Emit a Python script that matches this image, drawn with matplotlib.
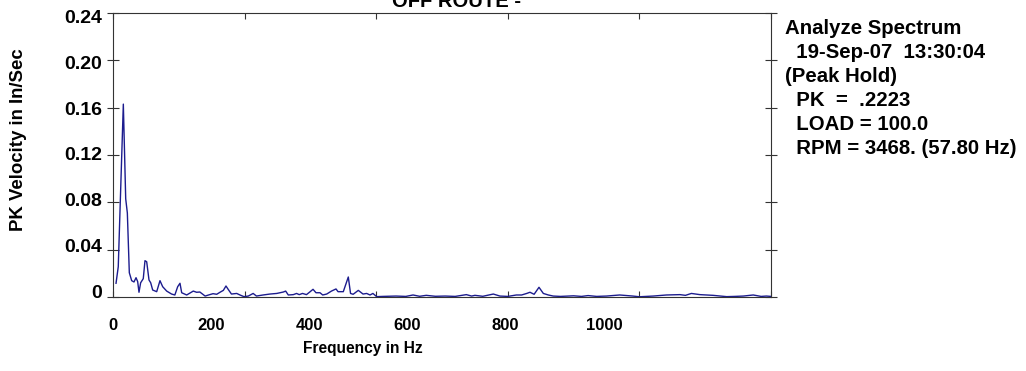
# Peak-hold velocity spectrum, OFF ROUTE
import numpy as np
import matplotlib
matplotlib.use("Agg")
import matplotlib.pyplot as plt

plt.rcParams['font.family'] = ['Liberation Sans', 'DejaVu Sans']
plt.rcParams['font.weight'] = 'bold'

freq = [4.6, 8, 15.7, 19.3, 21.8, 24.8, 28.4, 31.9, 35, 37.5, 39.5, 42, 46, 48.6,
        51.2, 54.7, 57.3, 60.3, 66.4, 71.4, 75.5, 81.6, 89, 94, 98.3, 101.8, 104.4,
        112, 122, 127, 132, 140, 147, 152, 157.6, 162.6, 167.7, 171.7, 175, 180,
        188, 193, 199, 205.6, 213, 218, 228, 238.6, 248.8, 258.8, 262.4, 266.4,
        274, 279, 283, 288, 294, 299, 304, 308.5, 314.6, 318.7, 324.8, 332, 338.9,
        342, 350, 357.6, 361, 365, 372.8, 380, 385.5, 390.6, 395, 400.7, 410, 430,
        445, 456, 466, 476, 490, 505, 520, 537, 545, 550, 562, 578, 588, 600, 613,
        621, 628.7, 633.7, 640, 647.4, 654, 661.6, 669, 680, 700, 712, 722, 735,
        750, 770, 790, 800, 821, 841, 861.7, 870, 879, 892, 912, 932.6, 945, 958,
        973, 985, 993, 1000]
velocity = [0.0116, 0.0256, 0.163, 0.083, 0.071, 0.0205, 0.0138, 0.0127, 0.0163,
            0.013, 0.004, 0.012, 0.0155, 0.0307, 0.0298, 0.0144, 0.012, 0.0059,
            0.0045, 0.0138, 0.0087, 0.005, 0.0025, 0.0017, 0.0087, 0.0116, 0.0036,
            0.0017, 0.005, 0.004, 0.0042, 0.0008, 0.002, 0.0028, 0.0023, 0.004,
            0.0056, 0.0093, 0.0065, 0.0025, 0.003, 0.0017, 0.0003, 0.0008, 0.003,
            0.0008, 0.0017, 0.0025, 0.003, 0.0042, 0.005, 0.0017, 0.002, 0.003,
            0.002, 0.003, 0.002, 0.0042, 0.0065, 0.0036, 0.0036, 0.0017, 0.0025,
            0.005, 0.0068, 0.0045, 0.0045, 0.0169, 0.003, 0.0023, 0.0056, 0.0025,
            0.003, 0.0017, 0.003, 0.0003, 0.0005, 0.0008, 0.0005, 0.0017, 0.0006,
            0.0014, 0.0006, 0.0008, 0.0005, 0.002, 0.0008, 0.0014, 0.0006, 0.0025,
            0.0008, 0.0005, 0.0017, 0.0017, 0.003, 0.004, 0.0023, 0.0082, 0.003,
            0.0017, 0.0008, 0.0005, 0.001, 0.0005, 0.0012, 0.0005, 0.0008, 0.0017,
            0.0008, 0.0002, 0.0008, 0.0017, 0.002, 0.0014, 0.003, 0.002, 0.0014,
            0.0003, 0.0005, 0.0008, 0.0017, 0.0005, 0.0008, 0.0005]

xticks = [0, 200, 400, 600, 800, 1000]
yticks = [0, 0.04, 0.08, 0.12, 0.16, 0.20, 0.24]
ylabels = ['0', '0.04', '0.08', '0.12', '0.16', '0.20', '0.24']
info = ["Analyze Spectrum", "  19-Sep-07  13:30:04", "(Peak Hold)",
        "  PK  =  .2223", "  LOAD = 100.0", "  RPM = 3468. (57.80 Hz)"]

fig = plt.figure(figsize=(10.26, 3.71), dpi=100)
ax = fig.add_axes([113/1026, 1-297/371, 658/1026, 284/371])

ax.plot(freq, velocity, color='#1c1c8e', lw=1.0)
ax.set_xlim(0, 1000)
ax.set_ylim(0, 0.24)

for s in ax.spines.values():
    s.set_color('#333333')
    s.set_linewidth(0.8)

ax.set_xticks(xticks)
ax.set_yticks(yticks)
ax.tick_params(axis='x', which='both', direction='in', length=4.5, color='#333333',
               top=True, labelbottom=False)
ax.tick_params(axis='y', which='both', direction='inout', length=8, color='#333333',
               right=True, labelleft=False)

# the tick labels of the original sit slightly off the tick marks
secx = ax.secondary_xaxis('bottom', functions=(lambda f: f / 0.746,
                                               lambda g: 0.746 * g))
secx.set_xticks(xticks)
secx.tick_params(length=0, pad=15, labelsize=12)
secx.spines['bottom'].set_visible(False)
for lab in secx.get_xticklabels():
    lab.set_fontweight('bold')

secy = ax.secondary_yaxis('left', functions=(lambda v: (v - 0.00507) / 0.9665,
                                             lambda g: 0.9665 * g + 0.00507))
secy.set_yticks(yticks)
secy.set_yticklabels(ylabels)
secy.tick_params(length=0, pad=8, labelsize=14)
secy.spines['left'].set_visible(False)
for lab in secy.get_yticklabels():
    lab.set_fontweight('bold')

fig.text(18.5/1026, 1-140/371, 'PK Velocity in In/Sec', rotation=90,
         ha='center', va='center', fontsize=13.4, fontweight='bold')
fig.text(363/1026, 1-349/371, 'Frequency in Hz', ha='center', va='center',
         fontsize=11.2, fontweight='bold')
fig.text(456/1026, 1-7/371, 'OFF ROUTE -', ha='center', va='baseline',
         fontsize=14.5, fontweight='bold')

for i, line in enumerate(info):
    fig.text(785/1026, 1-(28+24*i)/371, line, ha='left', va='center',
             fontsize=14.7, fontweight='bold')

fig.savefig('out.png', dpi=100)
